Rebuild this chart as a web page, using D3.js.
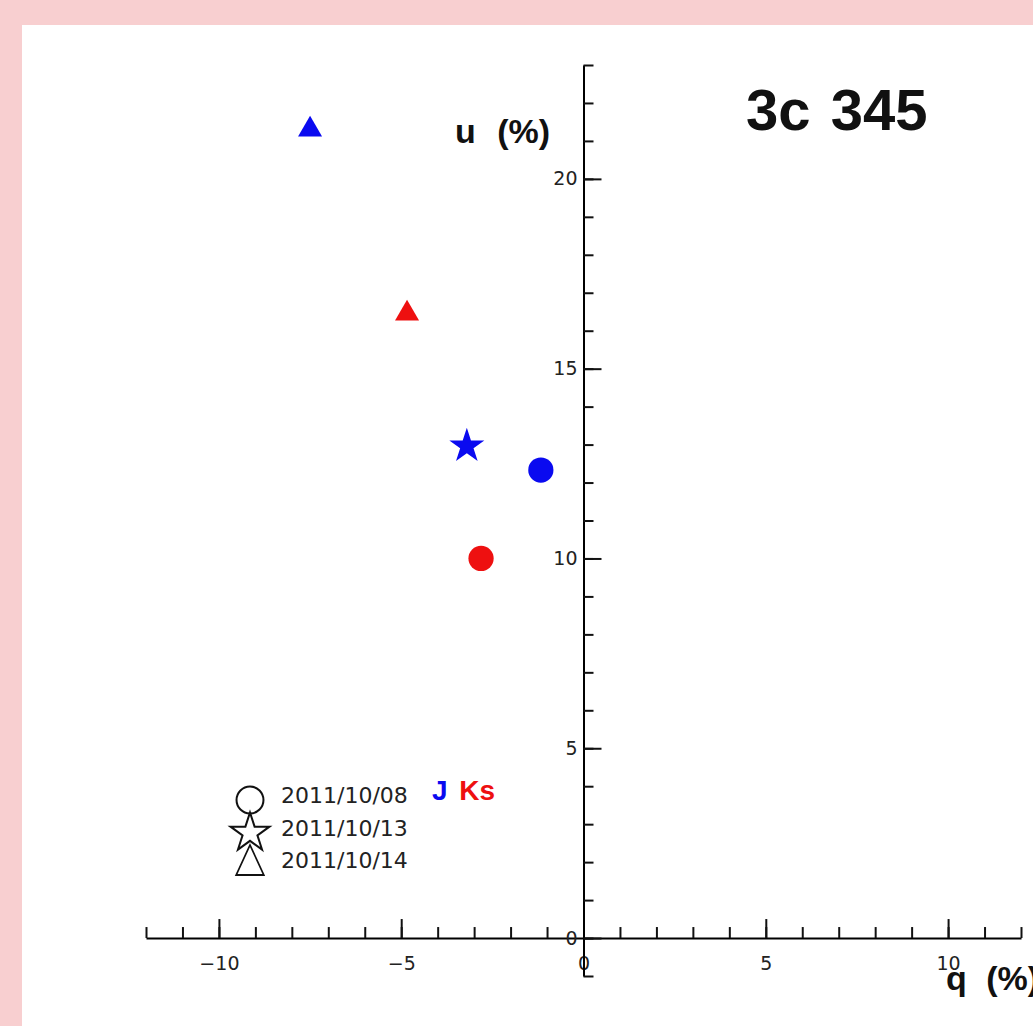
<!DOCTYPE html>
<html>
<head>
<meta charset="utf-8">
<script src="https://cdn.jsdelivr.net/npm/d3@7"></script>
<style>
  html, body { margin: 0; padding: 0; background: #f8cfd0; }
  svg { display: block; }
</style>
</head>
<body>
<div id="chart"></div>
<script>
// observation dates (one marker shape each) and bands (one colour each)
const dates = ['2011/10/08', '2011/10/13', '2011/10/14'];
const bands = ['J', 'Ks'];
const bandColors = ['#0a0af0', '#ee1010'];

// Stokes q, u (%) per point
const pointBand = ['J', 'J', 'J', 'Ks', 'Ks'];
const pointDate = ['2011/10/08', '2011/10/13', '2011/10/14', '2011/10/08', '2011/10/14'];
const qValues = [-1.17, -3.20, -7.50, -2.81, -4.84];
const uValues = [12.33, 12.96, 21.3, 10.0, 16.45];

const xMajorTicks = [-10, -5, 0, 5, 10];
const yMajorTicks = [0, 5, 10, 15, 20];

const W = 1033, H = 1026;

const svg = d3.select('#chart').append('svg')
  .attr('width', W)
  .attr('height', H);

svg.append('rect')
  .attr('x', 0).attr('y', 0).attr('width', W).attr('height', H)
  .attr('fill', '#f8cfd0');

svg.append('rect')
  .attr('x', 22).attr('y', 25).attr('width', W - 22).attr('height', H - 25)
  .attr('fill', '#fff');

const x = d3.scaleLinear().domain([-12, 12]).range([146, 1021]);
const y = d3.scaleLinear().domain([-1, 23]).range([976, 65]);

const tickFont = '"DejaVu Sans", sans-serif';

// x axis: minor ticks every 1, major every 5 (ticks drawn upward)
const xAxisG = svg.append('g').attr('transform', `translate(0,${y(0)})`);
xAxisG.append('g')
  .call(d3.axisBottom(x).tickValues(d3.range(-12, 13)).tickSizeInner(-11).tickSizeOuter(0).tickFormat(''))
  .call(g => g.select('.domain').attr('stroke-width', 2));
xAxisG.append('g')
  .call(d3.axisBottom(x).tickValues(xMajorTicks).tickSizeInner(-19).tickSizeOuter(0).tickPadding(18))
  .call(g => g.select('.domain').remove());

// y axis: ticks drawn to the right
const yAxisG = svg.append('g').attr('transform', `translate(${x(0)},0)`);
yAxisG.append('g')
  .call(d3.axisLeft(y).tickValues(d3.range(-1, 24)).tickSizeInner(-10).tickSizeOuter(0).tickFormat(''))
  .call(g => g.select('.domain').attr('stroke-width', 2));
yAxisG.append('g')
  .call(d3.axisLeft(y).tickValues(yMajorTicks).tickSizeInner(-18).tickSizeOuter(0).tickPadding(6))
  .call(g => g.select('.domain').remove());

svg.selectAll('.tick line').attr('stroke', '#111').attr('stroke-width', 2);
svg.selectAll('.tick text')
  .attr('font-family', tickFont)
  .attr('font-size', 19)
  .attr('fill', '#222');

// axis titles and chart title
const boldFont = '"Liberation Sans", Arial, sans-serif';
svg.append('text')
  .attr('x', 455).attr('y', 143)
  .attr('font-family', boldFont).attr('font-weight', 'bold')
  .attr('font-size', 34).attr('word-spacing', 12)
  .attr('fill', '#111')
  .text('u (%)');

svg.append('text')
  .attr('x', 946).attr('y', 990)
  .attr('font-family', boldFont).attr('font-weight', 'bold')
  .attr('font-size', 34).attr('word-spacing', 10)
  .attr('fill', '#111')
  .text('q (%)');

svg.append('text')
  .attr('x', 746).attr('y', 130)
  .attr('font-family', boldFont).attr('font-weight', 'bold')
  .attr('font-size', 58).attr('word-spacing', 4)
  .attr('fill', '#111')
  .text('3c 345');

// markers
const color = d3.scaleOrdinal().domain(bands).range(bandColors);
const shape = d3.scaleOrdinal().domain(dates).range([d3.symbolCircle, d3.symbolStar, d3.symbolTriangle]);
const shapeSize = d3.scaleOrdinal().domain(dates).range([500, 380, 250]);

const points = qValues.map((q, i) => ({ q, u: uValues[i], band: pointBand[i], date: pointDate[i] }));

svg.selectAll('.pt')
  .data(points)
  .enter()
  .append('path')
  .attr('class', 'pt')
  .attr('transform', d => `translate(${x(d.q)},${y(d.u)})`)
  .attr('d', d => d3.symbol().type(shape(d.date)).size(shapeSize(d.date))())
  .attr('fill', d => color(d.band));

// legend: open symbols + dates
const legendX = 250;
const legendRowY = [800, 833, 865];
const legendSizes = [570, 470, 330];
const lg = svg.append('g');
dates.forEach((dt, i) => {
  lg.append('path')
    .attr('transform', `translate(${legendX},${legendRowY[i]})` + (i === 2 ? ' scale(1,1.25)' : ''))
    .attr('d', d3.symbol().type(shape(dt)).size(legendSizes[i])())
    .attr('fill', 'none')
    .attr('stroke', '#111')
    .attr('stroke-width', i === 2 ? 1.6 : 2);
  lg.append('text')
    .attr('x', 281).attr('y', legendRowY[i] - 5)
    .attr('dy', '0.35em')
    .attr('font-family', tickFont)
    .attr('font-size', 22)
    .attr('fill', '#222')
    .text(dt);
});

const bandLabel = svg.append('text')
  .attr('x', 432).attr('y', 800)
  .attr('font-family', boldFont).attr('font-weight', 'bold')
  .attr('font-size', 28).attr('word-spacing', 4);
bands.forEach(b => {
  bandLabel.append('tspan').attr('fill', color(b)).text(b + ' ');
});
</script>
</body>
</html>
